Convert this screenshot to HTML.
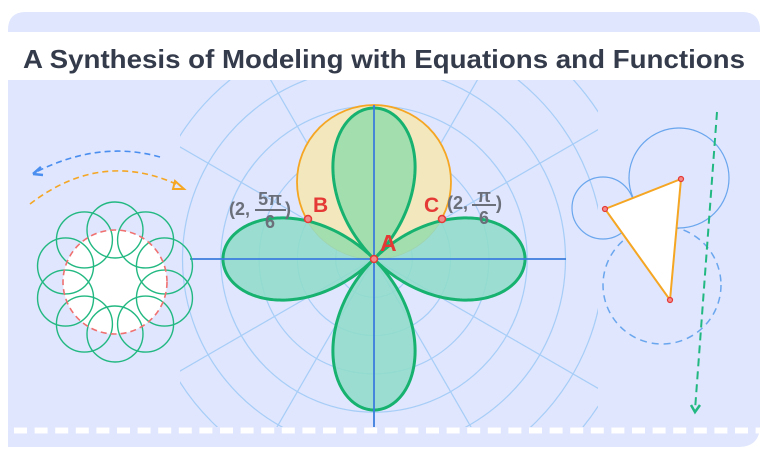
<!DOCTYPE html>
<html><head><meta charset="utf-8"><style>
html,body{margin:0;padding:0;background:#fff;width:768px;height:461px;overflow:hidden;}
svg{display:block}
</style></head><body>
<svg id="s" width="768" height="461" viewBox="0 0 768 461" xmlns="http://www.w3.org/2000/svg">
<defs>
<clipPath id="gc"><rect x="180" y="80" width="418" height="347"/></clipPath>
<clipPath id="cc"><circle cx="374" cy="182" r="77"/></clipPath>
</defs>
<rect x="0" y="0" width="768" height="461" fill="#fff"/>
<path d="M8 32 V30 Q8 12 26 12 H742 Q760 12 760 30 V32 Z" fill="#dfe6fd"/>
<path d="M8 80 H760 V425 Q760 447 738 447 H8 Z" fill="#dfe6fd"/>
<text x="384" y="68" text-anchor="middle" font-family="Liberation Sans, sans-serif" font-weight="bold" font-size="26" fill="#343b4b" textLength="722" lengthAdjust="spacingAndGlyphs">A Synthesis of Modeling with Equations and Functions</text>
<g clip-path="url(#gc)" fill="none" stroke="#a6cdf7" stroke-width="1.2" id="grid"></g>
<circle cx="374" cy="182" r="77" fill="#f2e7bd" stroke="#f5a623" stroke-width="1.8"/>
<path id="rose" fill="#8fdcc9" fill-opacity="0.85" stroke="none"/>
<path id="roseTop" fill="#a3dfae" stroke="none" clip-path="url(#cc)"/>
<path id="roseS" fill="none" stroke="#17b26f" stroke-width="3"/>
<line x1="190" y1="259" x2="566" y2="259" stroke="#3b7ddd" stroke-width="1.8"/>
<line x1="374" y1="105" x2="374" y2="427" stroke="#3b7ddd" stroke-width="1.8"/>
<g fill="#f28b8b" stroke="#e53935" stroke-width="1.5">
<circle cx="374" cy="259" r="3.5"/><circle cx="308" cy="219" r="3.5"/><circle cx="442" cy="219" r="3.5"/>
</g>
<g font-family="Liberation Sans, sans-serif" font-weight="bold" fill="#e53935">
<text x="313" y="212" font-size="21">B</text>
<text x="424" y="212" font-size="21">C</text>
<text x="380" y="251" font-size="23">A</text>
</g>
<g font-family="Liberation Sans, sans-serif" font-weight="bold" fill="#6b6f7a" font-size="18">
<text x="229" y="215">(2,</text>
<text x="270" y="205" text-anchor="middle">5π</text>
<line x1="255" y1="210" x2="286" y2="210" stroke="#6b6f7a" stroke-width="2"/>
<text x="270" y="228" text-anchor="middle">6</text>
<text x="285" y="215">)</text>
<text x="447" y="209">(2,</text>
<text x="484" y="202" text-anchor="middle">π</text>
<line x1="472" y1="205" x2="496" y2="205" stroke="#6b6f7a" stroke-width="2"/>
<text x="484" y="224" text-anchor="middle">6</text>
<text x="496" y="209">)</text>
</g>
<circle cx="115" cy="282" r="52" fill="#fff"/>
<g id="flower" fill="none" stroke="#22b882" stroke-width="1.4"></g>
<circle cx="115" cy="282" r="52" fill="none" stroke="#f07070" stroke-width="1.6" stroke-dasharray="6 4"/>
<path d="M160 157 Q100 140 36 172" fill="none" stroke="#4a8ef0" stroke-width="1.6" stroke-dasharray="6 4"/>
<path d="M33 174 L41 167 M33 174 L43 175" stroke="#4a8ef0" stroke-width="2.5" fill="none"/>
<path d="M30 204 Q100 150 176 184" fill="none" stroke="#f5a623" stroke-width="1.6" stroke-dasharray="6 4"/>
<path d="M175 181 L184 189 L173 189 Z" fill="none" stroke="#f5a623" stroke-width="2"/>
<circle cx="603" cy="208" r="31" fill="none" stroke="#6aa6ee" stroke-width="1.2"/>
<circle cx="679" cy="178" r="50" fill="none" stroke="#6aa6ee" stroke-width="1.2"/>
<circle cx="662" cy="285" r="59" fill="none" stroke="#6aa6ee" stroke-width="1.5" stroke-dasharray="7 5"/>
<path d="M605 209 L681 179 L670 300 Z" fill="#fff" stroke="#f5a623" stroke-width="2"/>
<g fill="#f28b8b" stroke="#e53935" stroke-width="1.2">
<circle cx="605" cy="209" r="2.5"/><circle cx="681" cy="179" r="2.5"/><circle cx="670" cy="300" r="2.5"/>
</g>
<line x1="717" y1="112" x2="695" y2="410" stroke="#22b882" stroke-width="2" stroke-dasharray="8 5"/>
<path d="M691 405 L695 412 L700 405" fill="none" stroke="#22b882" stroke-width="2.5"/>
<line x1="14" y1="430.5" x2="768" y2="430.5" stroke="#fff" stroke-width="6" stroke-dasharray="13 7.6"/>
</svg>
<script>
(function(){
var NS="http://www.w3.org/2000/svg",cx=374,cy=259;
var g=document.getElementById('grid');
for(var i=1;i<=7;i++){var c=document.createElementNS(NS,'circle');c.setAttribute('cx',cx);c.setAttribute('cy',cy);c.setAttribute('r',38.3*i);g.appendChild(c);}
for(var k=0;k<12;k++){if(k%3==0)continue;var a=k*Math.PI/6,l=document.createElementNS(NS,'line');
l.setAttribute('x1',cx);l.setAttribute('y1',cy);l.setAttribute('x2',cx+400*Math.cos(a));l.setAttribute('y2',cy-400*Math.sin(a));g.appendChild(l);}
var d='';for(var j=0;j<=720;j++){var t=j/720*2*Math.PI,r=151*Math.cos(2*t);
var x=cx+r*Math.cos(t),y=cy-r*Math.sin(t);d+=(j?'L':'M')+x.toFixed(2)+' '+y.toFixed(2);}
d+='Z';
['rose','roseTop','roseS'].forEach(function(id){document.getElementById(id).setAttribute('d',d);});
var f=document.getElementById('flower');
for(var m=0;m<10;m++){var a2=-Math.PI/2+m*2*Math.PI/10,c2=document.createElementNS(NS,'circle');
c2.setAttribute('cx',115+52*Math.cos(a2));c2.setAttribute('cy',282+52*Math.sin(a2));c2.setAttribute('r',28);f.appendChild(c2);}
})();
</script>
</body></html>
